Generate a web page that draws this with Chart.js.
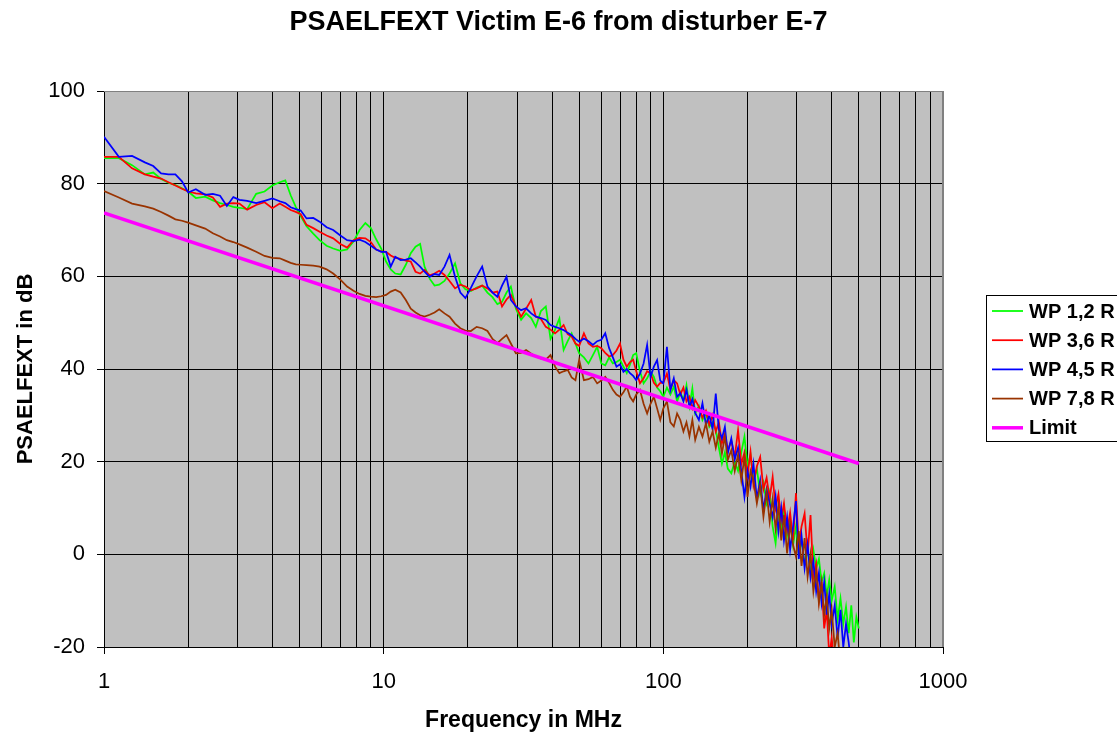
<!DOCTYPE html>
<html>
<head>
<meta charset="utf-8">
<script src="https://cdn.jsdelivr.net/npm/chart.js@4.4.1/dist/chart.umd.min.js"></script>
<style>
  html, body { margin:0; padding:0; background:#fff; }
  canvas { display:block; }
</style>
</head>
<body>
<canvas id="fextChart" width="1117" height="732"></canvas>
<script>
// frequencies in MHz (shared by the four measured pairs)
const freqMHz = [
  1, 1.13, 1.26, 1.4, 1.5, 1.6, 1.7, 1.8, 1.9, 2,
  2.13, 2.3, 2.45, 2.6, 2.75, 2.9, 3.05, 3.25, 3.5, 3.75,
  4, 4.25, 4.45, 4.65, 4.85, 5.05, 5.3, 5.6, 5.9, 6.25,
  6.6, 7, 7.4, 7.8, 8.2, 8.6, 9, 9.4, 9.8,
  10.2, 10.6, 11, 11.5, 12, 12.5, 13, 13.5, 14, 14.6,
  15.2, 15.8, 16.5, 17.2, 18, 18.8, 19.6, 20.5, 21.5, 22.5,
  23.5, 24.5, 25.5, 26.5, 27.5, 28.5, 29.7, 31, 32.3, 33.7,
  35, 36.5, 38, 39.5, 41, 42.5, 44, 45.5, 47, 48.5,
  50, 52, 54, 56, 58, 60, 62, 64, 66, 68,
  70, 72, 74, 76, 78, 80, 82.5, 85, 87.5, 90,
  92.5, 95, 97.5,
  100, 103, 106, 109, 112, 115, 118, 121, 124, 127,
  130, 134, 138, 142, 146, 150, 154, 158, 162, 166,
  170, 175, 180, 185, 190, 195, 200, 205, 210, 216,
  222, 228, 234, 240, 246, 252, 258, 264, 270, 277,
  284, 291, 298, 305, 312, 320, 328, 336, 344, 352,
  360, 368, 376, 384, 392, 400, 410, 420, 430, 440,
  450, 460, 470, 480, 490, 500
];

const wp12 = [
  85.5, 85.5, 84.0, 82.0, 82.4, 81.0, 80.2, 79.7, 79.0, 78.3,
  76.9, 77.2, 76.4, 75.8, 75.4, 75.0, 74.8, 74.5, 77.8, 78.3,
  79.6, 80.3, 80.7, 77.5, 75.0, 73.0, 70.8, 69.2, 67.8, 66.6,
  66.0, 65.5, 65.8, 67.5, 70.0, 71.5, 70.4, 68.0, 66.0,
  63.2, 61.5, 60.6, 60.4, 62.5, 65.0, 66.4, 67.0, 62.1, 59.5,
  58.0, 58.2, 59.0, 60.6, 62.8, 58.5, 57.2, 56.8, 57.6, 58.0,
  56.5, 55.5, 54.0, 54.5, 56.5, 57.8, 53.0, 50.6, 52.0, 51.0,
  49.1, 52.5, 53.5, 46.5, 48.5, 50.9, 44.1, 46.0, 47.7, 45.5,
  43.4, 42.5, 41.2, 43.0, 44.8, 41.2, 40.8, 42.5, 41.2, 41.5,
  42.0, 40.5, 39.1, 41.0, 43.0, 43.4, 39.5, 36.9, 38.0, 39.5,
  38.3, 36.0, 35.2,
  34.0, 36.0, 34.5, 36.2, 33.0, 35.0, 33.3, 36.5, 32.0, 35.8,
  30.4, 32.0, 29.0, 30.5, 27.5, 28.5, 26.8, 23.0, 19.6, 22.0,
  18.5, 17.5, 20.0, 18.0, 22.0, 25.4, 19.0, 21.5, 16.0, 18.5,
  13.0, 15.5, 11.0, 13.5, 6.0, 2.4, 9.0, 5.5, 10.0, 4.0,
  7.5, 2.0, 6.0, 0.0, 3.0, -2.0, 1.0, -4.0, 0.9, -3.0,
  -1.0, -6.0, -4.1, -9.0, -5.5, -10.0, -7.0, -14.0, -9.5, -15.0,
  -11.3, -17.0, -11.0, -19.0, -13.5, -16.0
];

const wp36 = [
  85.8, 85.8, 83.3, 82.0, 81.5, 81.1, 80.3, 79.6, 78.9, 78.3,
  77.9, 77.7, 77.0, 75.0, 75.7, 75.8, 75.7, 74.4, 75.4, 76.0,
  74.7, 75.7, 75.0, 74.3, 73.9, 73.4, 71.1, 70.4, 69.6, 68.8,
  68.2, 67.0, 66.2, 67.8, 68.3, 68.2, 67.4, 65.8, 65.4,
  65.3, 64.5, 64.0, 63.8, 63.4, 63.2, 61.0, 60.6, 61.4, 60.2,
  60.6, 61.2, 60.3, 59.0, 57.4, 58.2, 57.8, 57.0, 57.4, 58.0,
  57.4, 56.5, 56.7, 53.5, 55.0, 56.0, 53.5, 51.3, 53.0, 54.9,
  51.3, 50.8, 49.1, 48.5, 47.7, 48.5, 49.5, 47.5, 47.0, 45.5,
  45.0, 47.7, 45.5, 44.8, 45.0, 44.5, 43.5, 42.7, 43.0, 44.0,
  45.5, 42.0, 40.5, 41.5, 42.0, 39.5, 36.9, 38.0, 39.5, 39.1,
  37.0, 36.2, 37.0,
  37.0, 39.0, 35.5, 37.6, 36.9, 34.5, 36.0, 33.0, 34.0, 31.5,
  33.3, 31.9, 29.5, 31.0, 28.0, 30.0, 26.5, 28.5, 24.0, 26.0,
  22.5, 24.5, 21.0, 26.8, 19.5, 22.0, 17.0, 22.1, 15.0, 19.0,
  21.0, 14.0, 16.5, 12.0, 16.7, 10.0, 13.0, 7.5, 11.0, 5.0,
  9.0, 3.0, 13.2, 2.0, 6.0, 8.8, 0.0, 8.5, -5.0, -2.0,
  -10.0, -6.0, -16.0, -12.0, -22.0, -18.0, -25.0, null, null, null,
  null, null, null, null, null, null
];

const wp45 = [
  90.1, 85.8, 86.0, 84.6, 83.8, 82.2, 82.0, 82.0, 80.5, 78.1,
  78.8, 77.6, 77.8, 77.4, 75.2, 77.1, 76.5, 76.3, 75.8, 76.3,
  76.8, 76.2, 75.8, 74.9, 74.5, 74.2, 72.5, 72.6, 71.8, 70.6,
  70.0, 68.8, 67.8, 67.6, 67.9, 67.4, 66.6, 65.8, 65.3,
  65.3, 62.1, 64.2, 63.5, 63.6, 63.9, 63.0, 62.1, 61.0, 59.9,
  60.5, 60.3, 62.1, 64.6, 59.9, 56.5, 55.3, 57.5, 60.0, 62.1,
  57.8, 56.5, 55.6, 58.0, 59.9, 54.9, 53.5, 52.7, 53.1, 52.0,
  51.3, 51.0, 50.6, 49.5, 49.1, 48.8, 48.4, 47.8, 47.3, 46.5,
  45.9, 46.6, 46.0, 45.2, 46.0, 46.3, 47.7, 44.5, 42.5, 40.5,
  41.0, 39.4, 40.0, 39.1, 38.5, 37.6, 39.0, 41.2, 45.2, 38.3,
  40.5, 41.9, 37.5,
  36.9, 44.8, 35.5, 38.0, 34.0, 34.8, 33.0, 35.5, 31.9, 33.5,
  30.5, 29.0, 32.6, 28.0, 30.0, 27.0, 34.7, 26.8, 25.0, 27.5,
  21.8, 25.0, 20.5, 23.0, 18.0, 12.4, 18.0, 14.6, 19.5, 12.0,
  16.0, 9.6, 14.0, 11.0, 8.0, 12.5, 5.0, 10.0, 3.0, 8.0,
  1.0, 6.0, 11.5, -1.0, 4.0, -3.0, 2.0, -5.0, -1.5, -8.0,
  -4.0, -10.5, -6.0, -13.0, -8.5, -15.0, -11.0, -18.0, -12.0, -20.0,
  -15.0, -19.0, -24.0, null, null, null
];

const wp78 = [
  78.4, 77.0, 75.7, 75.1, 74.6, 73.9, 73.1, 72.3, 72.0, 71.6,
  71.0, 70.3, 69.3, 68.6, 67.8, 67.4, 66.9, 66.2, 65.3, 64.4,
  64.0, 63.9, 63.4, 62.9, 62.6, 62.5, 62.4, 62.3, 62.1, 61.5,
  60.6, 59.3, 57.8, 56.9, 56.2, 55.8, 55.6, 55.5, 55.7,
  56.0, 56.7, 57.1, 56.5, 54.9, 53.0, 52.2, 51.6, 51.3, 51.7,
  52.2, 52.9, 52.0, 51.3, 49.8, 48.8, 48.3, 48.2, 49.1, 48.8,
  48.2, 46.5, 45.6, 46.5, 47.3, 45.5, 43.4, 43.5, 44.1, 43.3,
  42.7, 42.3, 42.0, 43.0, 40.5, 39.1, 39.5, 39.8, 38.2, 37.6,
  42.0, 37.6, 37.8, 38.3, 36.9, 37.5, 38.3, 37.0, 35.5, 34.5,
  34.0, 35.0, 36.2, 34.0, 33.0, 34.5, 35.5, 32.5, 30.4, 32.5,
  34.0, 31.5, 29.0,
  31.5, 33.0, 28.5, 27.6, 30.4, 29.0, 26.5, 28.5, 25.5, 29.0,
  24.7, 27.5, 25.4, 28.3, 24.3, 26.5, 23.0, 26.1, 21.8, 25.4,
  20.4, 22.5, 18.0, 21.5, 16.0, 21.0, 12.4, 18.0, 16.0, 11.0,
  15.0, 8.1, 13.5, 7.0, 12.0, 5.5, 10.5, 3.0, 8.5, 0.2,
  6.5, 2.0, -0.5, 5.0, -2.5, 3.5, -4.8, 0.0, -8.0, -3.5,
  -10.6, -6.0, -13.0, -9.0, -16.0, -12.0, -20.0, -17.0, -24.0, null,
  null, null, null, null, null, null
];

// limit line end points
const limitFreq = [1, 500];
const limitDb = [73.7, 19.6];

const seriesNames = ['WP 1,2 R', 'WP 3,6 R', 'WP 4,5 R', 'WP 7,8 R', 'Limit'];
const seriesColors = ['#00FF00', '#FF0000', '#0000FF', '#993300', '#FF00FF'];

const xGridValues = [1, 2, 3, 4, 5, 6, 7, 8, 9, 10, 20, 30, 40, 50, 60, 70, 80, 90,
  100, 200, 300, 400, 500, 600, 700, 800, 900, 1000];
const xLabelValues = [1, 10, 100, 1000];

[wp12, wp36, wp45, wp78].forEach(a => {
  if (a.length !== freqMHz.length) throw new Error('series length ' + a.length + ' vs ' + freqMHz.length);
});

const FONT = "'Liberation Sans', Arial, sans-serif";
const pts = arr => freqMHz.map((f, i) => ({x: f, y: arr[i]}));

const measured = [wp12, wp36, wp45, wp78].map((arr, i) => ({
  label: seriesNames[i], data: pts(arr), borderColor: seriesColors[i],
  borderWidth: 1.75, pointRadius: 0, tension: 0, spanGaps: false, order: 5 - i
}));
const limitSet = {
  label: seriesNames[4], data: limitFreq.map((f, i) => ({x: f, y: limitDb[i]})),
  borderColor: seriesColors[4], borderWidth: 3.5, pointRadius: 0, order: 0
};

const plotBg = {
  id: 'plotBg',
  beforeDraw(chart) {
    const {ctx, chartArea: a} = chart;
    ctx.save();
    ctx.fillStyle = '#C0C0C0';
    ctx.fillRect(a.left, a.top, a.right - a.left, a.bottom - a.top);
    ctx.restore();
  },
  afterDraw(chart) {
    const {ctx, chartArea: a} = chart;
    ctx.save();
    // top / right frame of the plot area
    ctx.strokeStyle = '#808080';
    ctx.lineWidth = 1;
    ctx.beginPath();
    ctx.moveTo(a.left, a.top + 0.5);
    ctx.lineTo(a.right - 0.5, a.top + 0.5);
    ctx.lineTo(a.right - 0.5, a.bottom);
    ctx.stroke();

    // title
    ctx.fillStyle = '#000';
    ctx.font = 'bold 27px ' + FONT;
    ctx.textAlign = 'center';
    ctx.textBaseline = 'alphabetic';
    ctx.fillText('PSAELFEXT Victim E-6 from disturber E-7', 558.5, 30);

    // legend box (runs past the right edge like the original)
    ctx.strokeStyle = '#000';
    ctx.strokeRect(986.5, 295.5, 140, 146);
    ctx.font = 'bold 20px ' + FONT;
    ctx.textAlign = 'left';
    ctx.textBaseline = 'middle';
    chart.data.datasets.forEach((ds, i) => {
      const y = 311 + i * 29.2;
      ctx.strokeStyle = ds.borderColor;
      ctx.lineWidth = ds.borderWidth;
      ctx.beginPath();
      ctx.moveTo(992, y);
      ctx.lineTo(1023, y);
      ctx.stroke();
      ctx.fillText(ds.label, 1029, y + 1);
    });
    ctx.restore();
  }
};

new Chart(document.getElementById('fextChart'), {
  type: 'line',
  data: { datasets: [...measured, limitSet] },
  plugins: [plotBg],
  options: {
    responsive: false,
    animation: false,
    layout: { padding: { left: 0, right: 174, top: 91, bottom: 0 } },
    plugins: { legend: { display: false }, title: { display: false }, tooltip: { enabled: false } },
    scales: {
      x: {
        type: 'logarithmic', min: 1, max: 1000,
        afterFit: s => { s.height = 85; },
        afterBuildTicks: s => { s.ticks = xGridValues.map(v => ({ value: v })); },
        ticks: {
          autoSkip: false, maxRotation: 0, padding: 15, color: '#000',
          font: { family: FONT, size: 22 },
          callback: v => xLabelValues.includes(v) ? String(v) : ''
        },
        grid: {
          color: c => (c.tick && c.tick.value === 1000) ? '#808080' : '#000',
          lineWidth: 1, tickLength: 7,
          tickColor: c => (c.tick && xLabelValues.includes(c.tick.value)) ? '#000' : 'rgba(0,0,0,0)'
        },
        border: { color: '#000', width: 1 },
        title: {
          display: true, text: 'Frequency in MHz', color: '#000',
          font: { family: FONT, size: 23, weight: 'bold', lineHeight: 1 },
          padding: { top: 0, bottom: 0 }
        }
      },
      y: {
        min: -20, max: 100,
        afterFit: s => { s.width = 104; },
        ticks: { stepSize: 20, padding: 12, color: '#000', font: { family: FONT, size: 22 } },
        grid: {
          color: c => (c.tick && c.tick.value === 100) ? '#808080' : '#000',
          lineWidth: 1, tickLength: 7, tickColor: '#000'
        },
        border: { color: '#000', width: 1 },
        title: {
          display: true, text: 'PSAELFEXT in dB', color: '#000',
          font: { family: FONT, size: 22, weight: 'bold', lineHeight: 1 },
          padding: { top: 15, bottom: 0 }
        }
      }
    }
  }
});
</script>
</body>
</html>
